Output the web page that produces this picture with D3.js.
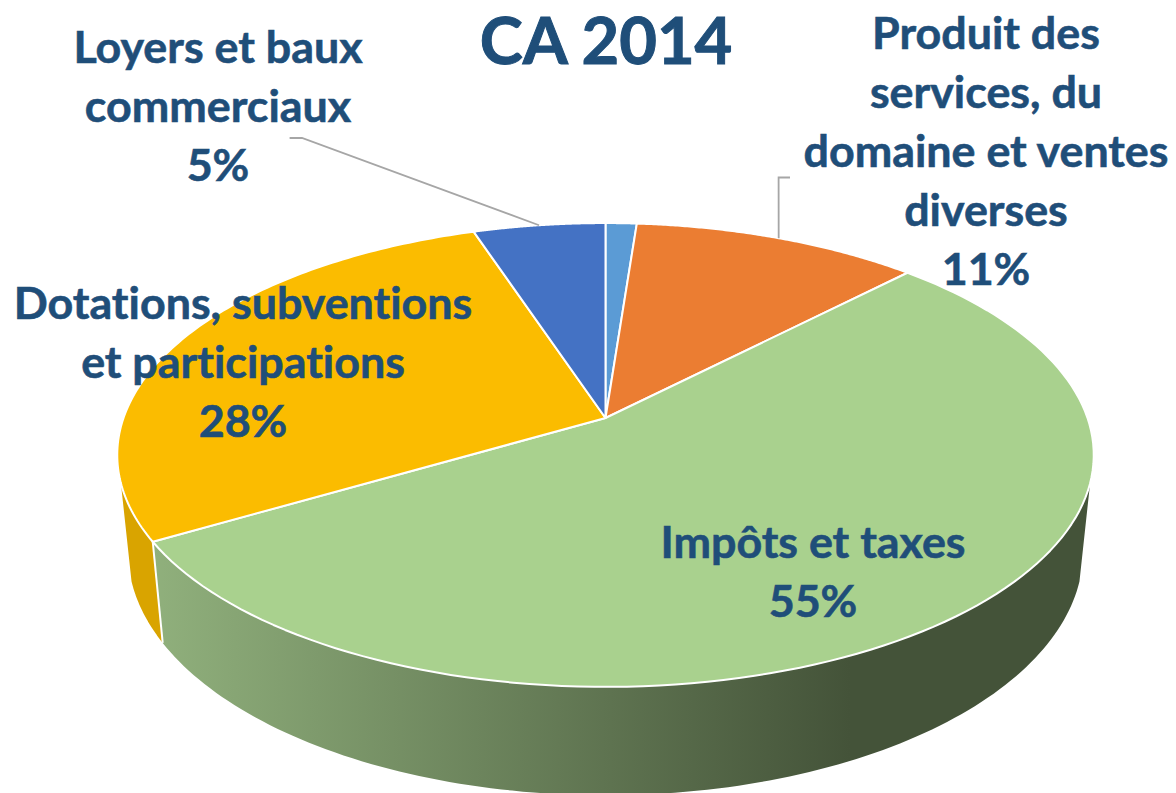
<!DOCTYPE html>
<html><head><meta charset="utf-8">
<style>html,body{margin:0;padding:0;background:#fff;overflow:hidden}svg{display:block}text{font-variant-ligatures:none;font-kerning:normal}</style>
<script src="https://cdn.jsdelivr.net/npm/d3@7"></script></head><body>
<svg id="c" width="1176" height="793"></svg>
<script>
const categories=["Autres","Produit des services, du domaine et ventes diverses","Impôts et taxes","Dotations, subventions et participations","Loyers et baux commerciaux"];
const values=[1.2,11.1,54.3,28.3,5.1];
const colors=["#5b9bd5","#eb7d32","#a9d18e","#fbbc00","#4472c4"];
const sideColors=[null,null,"url(#wall)","#d9a400",null];
const titleText="CA 2014";
const labelLines=[null,["Produit des","services, du","domaine et ventes","diverses","11%"],["Impôts et taxes","55%"],["Dotations, subventions","et participations","28%"],["Loyers et baux","commerciaux","5%"]];
const labelPos=[null,[986,49],[813,558],[243,319],[218,63]];
const leaderElbows=[null,[[790,177.5],[778.6,177.5]],null,null,[[289.6,138],[302,138]]];

const svg=d3.select("#c"),ink="#1f4e79";
const k=0.1594,cx=605.5,cy=418,A=482,B=226;
const upper=(t,r=1)=>{const u=r*Math.sin(t),v=-r*Math.cos(t),w=1-k*v;return [cx+A*u/w,cy+B*v/w];};
const lower=t=>{const u=Math.sin(t),v=-Math.cos(t),w=1-k*v;return [cx+0.978*A*u/w,513+1.05*B*v/w];};
const arcs=d3.pie().sort(null).value(d=>d)(values);
const line=d3.line();
const samples=(a,b)=>d3.range(0,121).map(i=>a+(b-a)*i/120);
const rad=d=>d*Math.PI/180;

const grad=svg.append("defs").append("linearGradient").attr("id","wall").attr("gradientUnits","userSpaceOnUse").attr("x1",153).attr("x2",850).attr("y1",0).attr("y2",0);
grad.append("stop").attr("offset",0).attr("stop-color","#90b07c");
grad.append("stop").attr("offset",1).attr("stop-color","#445339");

// side walls: only the visible front part of each slice
const tR=rad(106),tL=rad(254);
arcs.forEach((a,i)=>{
  if(!sideColors[i])return;
  const s=Math.max(a.startAngle,tR),e=Math.min(a.endAngle,tL);
  if(e<=s)return;
  const t=samples(s,e);
  svg.append("path").attr("d",line([...t.map(x=>upper(x)),...t.slice().reverse().map(lower)])+"Z")
    .attr("fill",sideColors[i]);
});
// white seam between wall faces
const seam=arcs[2].endAngle;
svg.append("path").attr("d",line([upper(seam),lower(seam)])).attr("stroke","#fff").attr("stroke-width",2).attr("fill","none");

// top faces
arcs.forEach((a,i)=>{
  const pts=[[cx,cy],...samples(a.startAngle,a.endAngle).map(x=>upper(x))];
  svg.append("path").attr("d",line(pts)+"Z").attr("fill",colors[i])
    .attr("stroke","#fff").attr("stroke-width",2).attr("stroke-linejoin","round");
});
// leader lines
arcs.forEach((a,i)=>{
  if(!leaderElbows[i])return;
  const m=(a.startAngle+a.endAngle)/2;
  svg.append("path").attr("d",line([...leaderElbows[i],upper(m)])).attr("fill","none").attr("stroke","#a6a6a6").attr("stroke-width",1.8);
});
const font="Lato, Carlito, sans-serif";
svg.append("text").attr("x",606).attr("y",64).attr("text-anchor","middle").attr("font-family",font).attr("font-weight",700).attr("font-size",65).attr("fill",ink).attr("stroke",ink).attr("stroke-width",1).text(titleText);
labelLines.forEach((ls,i)=>{
  if(!ls)return;
  const g=svg.append("text").attr("text-anchor","middle").attr("font-family",font).attr("font-weight",700).attr("font-size",44.8).attr("fill",ink).attr("stroke",ink).attr("stroke-width",0.6);
  ls.forEach((l,j)=>g.append("tspan").attr("x",labelPos[i][0]).attr("y",labelPos[i][1]+59*j).text(l));
});
</script></body></html>
